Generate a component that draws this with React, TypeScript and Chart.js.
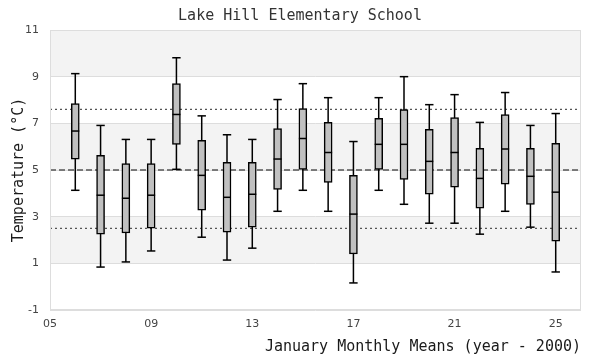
import React, { useEffect, useRef } from "react";
import { Chart, registerables } from "chart.js";

Chart.register(...registerables);

// ---- data ----
const years = [6, 7, 8, 9, 10, 11, 12, 13, 14, 15, 16, 17, 18, 19, 20, 21, 22, 23, 24, 25];
const whiskerLow = [4.13, 0.84, 1.06, 1.53, 5.03, 2.12, 1.14, 1.65, 3.23, 4.13, 3.23, 0.16, 4.13, 3.53, 2.72, 2.72, 2.25, 3.23, 2.55, 0.63];
const quartile1 = [5.46, 2.25, 2.3, 2.51, 6.1, 3.28, 2.34, 2.55, 4.17, 5.03, 4.47, 1.4, 5.03, 4.6, 3.96, 4.26, 3.36, 4.39, 3.53, 1.95];
const medians = [6.67, 3.92, 3.79, 3.92, 7.38, 4.77, 3.83, 3.96, 5.47, 6.35, 5.75, 3.11, 6.1, 6.1, 5.37, 5.75, 4.64, 5.9, 4.73, 4.05];
const quartile3 = [7.85, 5.63, 5.28, 5.28, 8.7, 6.27, 5.33, 5.33, 6.78, 7.63, 7.04, 4.77, 7.21, 7.59, 6.74, 7.25, 5.93, 7.38, 5.93, 6.14];
const whiskerHigh = [9.13, 6.91, 6.31, 6.31, 9.81, 7.32, 6.51, 6.31, 8.02, 8.7, 8.1, 6.22, 8.1, 9.0, 7.8, 8.23, 7.04, 8.32, 6.91, 7.42];

const upperLimit = 7.6;
const overallMean = 5.0;
const lowerLimit = 2.5;

const xMin = 5;
const xMax = 26;
const yMin = -1;
const yMax = 11;
const xTicks = [5, 9, 13, 17, 21, 25];
const yTicks = [-1, 1, 3, 5, 7, 9, 11];
const shadedBands: [number, number][] = [
  [9, 11],
  [5, 7],
  [1, 3],
];

const titleText = "Lake Hill Elementary School";
const xTitle = "January Monthly Means (year - 2000)";
const yTitle = "Temperature (°C)";

const MONO = "'DejaVu Sans Mono', 'Liberation Mono', monospace";
const SANS = "'DejaVu Sans', 'Liberation Sans', sans-serif";

const bandsPlugin = {
  id: "bands",
  beforeDraw(chart: any) {
    const { ctx, chartArea, scales } = chart;
    const y = scales.y;
    ctx.save();
    ctx.fillStyle = "#f3f3f3";
    shadedBands.forEach(([a, b]) => {
      const top = y.getPixelForValue(b);
      const bot = y.getPixelForValue(a);
      ctx.fillRect(chartArea.left, top, chartArea.right - chartArea.left, bot - top);
    });
    ctx.restore();
  },
  afterDraw(chart: any) {
    const { ctx, chartArea } = chart;
    ctx.save();
    ctx.strokeStyle = "#dddddd";
    ctx.lineWidth = 1;
    ctx.strokeRect(
      Math.round(chartArea.left) + 0.5,
      Math.round(chartArea.top) + 0.5,
      Math.round(chartArea.right - chartArea.left) - 1,
      Math.round(chartArea.bottom - chartArea.top) - 1
    );
    ctx.restore();
  },
};

function refLine(value: number, dash: number[], color: string) {
  return {
    type: "line" as const,
    data: [
      { x: xMin, y: value },
      { x: xMax, y: value },
    ],
    borderColor: color,
    borderWidth: 1.3,
    borderDash: dash,
    pointRadius: 0,
    fill: false,
    order: 6,
  };
}

export default function App() {
  const ref = useRef<HTMLCanvasElement | null>(null);

  useEffect(() => {
    if (!ref.current) return;

    const whiskerData: any[] = [];
    years.forEach((yr, i) => {
      whiskerData.push({ x: yr, y: whiskerLow[i] });
      whiskerData.push({ x: yr, y: whiskerHigh[i] });
      whiskerData.push({ x: yr, y: null });
    });
    const capData: any[] = [];
    years.forEach((yr, i) => {
      capData.push({ x: yr, y: whiskerLow[i] });
      capData.push({ x: yr, y: whiskerHigh[i] });
    });

    const chart = new Chart(ref.current, {
      type: "bar",
      data: {
        datasets: [
          refLine(upperLimit, [2, 3], "#555555"),
          refLine(overallMean, [6, 3], "#555555"),
          refLine(lowerLimit, [2, 3], "#555555"),
          {
            type: "line",
            data: whiskerData,
            borderColor: "#000000",
            borderWidth: 1.5,
            pointRadius: 0,
            spanGaps: false,
            fill: false,
            order: 5,
          } as any,
          {
            type: "bar",
            data: years.map((yr, i) => ({ x: yr, y: [quartile1[i], quartile3[i]] })),
            backgroundColor: "#c0c0c0",
            borderColor: "#000000",
            borderWidth: 1.5,
            borderSkipped: false,
            barThickness: 8,
            grouped: false,
            order: 4,
          } as any,
          {
            type: "scatter",
            data: capData,
            pointStyle: "line",
            pointRadius: 4.2,
            pointHoverRadius: 4.2,
            borderColor: "#000000",
            borderWidth: 1.5,
            order: 2,
          } as any,
          {
            type: "scatter",
            data: years.map((yr, i) => ({ x: yr, y: medians[i] })),
            pointStyle: "line",
            pointRadius: 4,
            pointHoverRadius: 4,
            borderColor: "#000000",
            borderWidth: 1.5,
            order: 1,
          } as any,
        ],
      },
      options: {
        responsive: false,
        animation: false,
        devicePixelRatio: 1,
        layout: { padding: { left: 0, right: 0, top: 0, bottom: 0 } },
        plugins: {
          legend: { display: false },
          tooltip: { enabled: false },
          title: {
            display: true,
            text: titleText,
            color: "#333333",
            font: { family: MONO, size: 15, weight: "normal" },
            padding: { top: 7, bottom: 5 },
          },
        },
        scales: {
          x: {
            type: "linear",
            min: xMin,
            max: xMax,
            offset: false,
            grid: { display: false, drawTicks: false },
            border: { display: false },
            afterBuildTicks: (s: any) => {
              s.ticks = xTicks.map((v) => ({ value: v }));
            },
            afterFit: (s: any) => {
              s.height = 50;
            },
            ticks: {
              padding: 8,
              color: "#444444",
              font: { family: SANS, size: 11 },
              maxRotation: 0,
              autoSkip: false,
              callback: (v: any) => String(v).padStart(2, "0"),
            },
            title: {
              display: true,
              text: xTitle,
              align: "end",
              color: "#1a1a1a",
              font: { family: MONO, size: 15, weight: "normal" },
              padding: 4,
            },
          },
          y: {
            type: "linear",
            min: yMin,
            max: yMax,
            grid: { color: "#dddddd", drawTicks: false, lineWidth: 1 },
            border: { display: false },
            afterBuildTicks: (s: any) => {
              s.ticks = yTicks.map((v) => ({ value: v }));
            },
            afterFit: (s: any) => {
              s.width = 50;
            },
            ticks: {
              padding: 11,
              color: "#444444",
              font: { family: SANS, size: 11 },
              autoSkip: false,
            },
            title: {
              display: true,
              text: yTitle,
              color: "#1a1a1a",
              font: { family: MONO, size: 15, weight: "normal" },
              padding: 10,
            },
          },
          yRight: {
            type: "linear",
            position: "right",
            min: yMin,
            max: yMax,
            display: true,
            grid: { display: false, drawTicks: false },
            border: { display: false },
            ticks: { display: false },
            afterFit: (s: any) => {
              s.width = 19;
            },
          },
        },
      } as any,
      plugins: [bandsPlugin],
    });

    return () => chart.destroy();
  }, []);

  return (
    <div style={{ position: "absolute", left: 0, top: 0, width: 600, height: 360, background: "#fff" }}>
      <canvas ref={ref} width={600} height={360} style={{ width: 600, height: 360 }} />
    </div>
  );
}
